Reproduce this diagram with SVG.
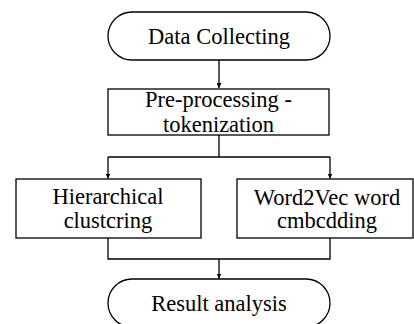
<svg xmlns="http://www.w3.org/2000/svg" width="414" height="324" viewBox="0 0 414 324">
<style>
.n{fill:#fff;stroke:#000;stroke-width:1.3}
.t{font-family:'Liberation Serif','Times New Roman',serif;font-size:22.5px;fill:#000;text-anchor:middle}
.c{fill:none;stroke:#000;stroke-width:1.3}
</style>
<defs>
<marker id="ah" viewBox="0 0 10 10" refX="10" refY="5" markerWidth="5" markerHeight="5" markerUnits="userSpaceOnUse" orient="auto"><path d="M0,0 L10,5 L0,10 z" fill="#000"/></marker>
</defs>
<rect width="414" height="324" fill="#fff"/>
<g id="connectors">
<path class="c" d="M219,60 V88" marker-end="url(#ah)"/>
<path class="c" d="M219,135 V157 M108,157 H330"/>
<path class="c" d="M108,157 V178.5" marker-end="url(#ah)"/>
<path class="c" d="M330,157 V178.5" marker-end="url(#ah)"/>
<path class="c" d="M108,238 V259 H330 V238"/>
<path class="c" d="M219,259 V278.5" marker-end="url(#ah)"/>
</g>
<g id="data-collecting">
<rect class="n" x="108" y="12" width="222" height="48" rx="24" ry="24"/>
<text class="t" font-family="Liberation Serif, serif" x="219" y="44">Data Collecting</text>
</g>
<g id="preprocessing">
<rect class="n" x="108" y="89" width="221" height="46"/>
<text class="t" font-family="Liberation Serif, serif" x="218.5" y="107">Pre-processing -</text>
<text class="t" font-family="Liberation Serif, serif" x="218.5" y="132">tokenization</text>
</g>
<g id="hierarchical">
<rect class="n" x="16" y="179" width="185" height="59"/>
<text class="t" font-family="Liberation Serif, serif" x="108" y="204">Hierarchical</text>
<text class="t" font-family="Liberation Serif, serif" x="108" y="228">clustcring</text>
</g>
<g id="word2vec">
<rect class="n" x="237" y="179" width="176" height="59"/>
<text class="t" font-family="Liberation Serif, serif" x="327" y="205">Word2Vec word</text>
<text class="t" font-family="Liberation Serif, serif" x="327" y="228">cmbcdding</text>
</g>
<g id="result">
<rect class="n" x="108" y="279" width="222" height="48" rx="24" ry="24"/>
<text class="t" font-family="Liberation Serif, serif" x="219" y="311">Result analysis</text>
</g>
</svg>
